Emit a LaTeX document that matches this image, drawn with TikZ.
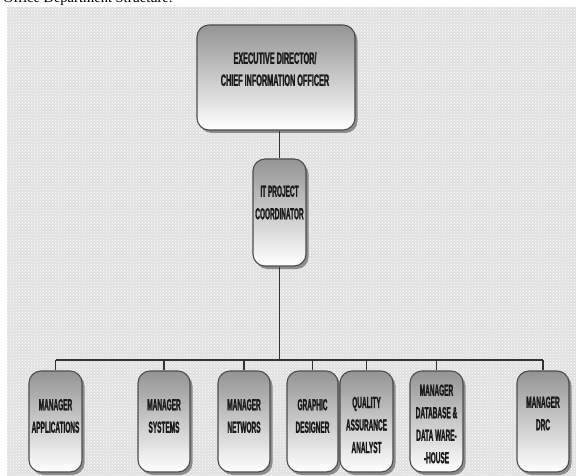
\documentclass[tikz,border=0pt]{standalone}
\usepackage{fontspec}
\setmainfont{Liberation Serif}
\newfontfamily\boxfont{Liberation Sans}[FakeStretch=0.405, FakeBold=1.2]
\newfontfamily\execfont{Liberation Sans}[FakeStretch=0.44, FakeBold=1.2]
\usetikzlibrary{shadows,patterns}
\tikzset{
  orgbox/.style={draw=black!70, line width=1.1pt, rounded corners=12pt,
    top color=black!42, middle color=black!20, bottom color=white,
    drop shadow={shadow xshift=2.5pt, shadow yshift=-3pt, fill=black!60, opacity=0.7},
    inner sep=0pt, minimum width=53pt, minimum height=101pt},
  boxtext/.style={inner sep=0pt, align=center, font=\boxfont\bfseries\fontsize{16}{22.5}\selectfont, text=black!90},
  exectext/.style={boxtext, font=\execfont\bfseries\fontsize{16.5}{22}\selectfont},
  conn/.style={draw=black!80, line width=1.3pt}
}
\begin{document}
\begin{tikzpicture}[x=1pt,y=-1pt]
\useasboundingbox (0,0) rectangle (576,476);
\clip (0,0) rectangle (576,476);
% header text (cut off at top)
\node[anchor=base west, inner sep=0pt, font=\fontsize{14.5}{17}\selectfont] (hdr) at (3,3) {Office Department Structure:};
% background
\fill[black!12] (7,7) rectangle (576,476);
\fill[pattern=crosshatch dots, pattern color=white] (7,7) rectangle (576,476);

% boxes
\node[orgbox, minimum width=158pt, minimum height=105pt] (exec) at (276,77.5) {};
\node[exectext] (exect) at (275,69) {EXECUTIVE DIRECTOR/\\CHIEF INFORMATION OFFICER};

\node[orgbox, minimum height=107pt] (it) at (279.5,212.5) {};
\node[boxtext] (itt) at (279.5,202.5) {IT PROJECT\\COORDINATOR};

\node[orgbox] (app) at (55.5,421.5) {};
\node[orgbox, minimum width=52pt] (sys) at (164,421.5) {};
\node[orgbox, minimum width=52pt] (net) at (244,421.5) {};
\node[orgbox, minimum width=51pt] (gra) at (312.5,421.5) {};
\node[orgbox] (qa) at (366.5,421.5) {};
\node[orgbox] (db) at (436.5,421.5) {};
\node[orgbox, minimum width=52pt] (drc) at (543,421.5) {};

\node[boxtext] (appt) at (55.5,416) {MANAGER\\APPLICATIONS};
\node[boxtext] (syst) at (164,416) {MANAGER\\SYSTEMS};
\node[boxtext] (nett) at (244,416) {MANAGER\\NETWORS};
\node[boxtext] (grat) at (312.5,416) {GRAPHIC\\DESIGNER};
\node[boxtext] (qat) at (366.5,425) {QUALITY\\ASSURANCE\\ANALYST};
\node[boxtext] (dbt) at (436.5,424) {MANAGER\\DATABASE \&\\DATA WARE-\\-HOUSE};
\node[boxtext] (drct) at (543,413.5) {MANAGER\\DRC};

% connectors
\coordinate (busL) at (55.5,360);
\coordinate (busR) at (543,360);
\draw[conn] (exec.south -| it.north) -- (it.north);
\draw[conn] (it.south) -- (it.south |- busL);
\draw[conn] (busL) -- (busR);
\foreach \b in {app,sys,net,gra,qa,db,drc}
  \draw[conn] (\b.north |- busL) -- (\b.north);
\end{tikzpicture}
\end{document}
